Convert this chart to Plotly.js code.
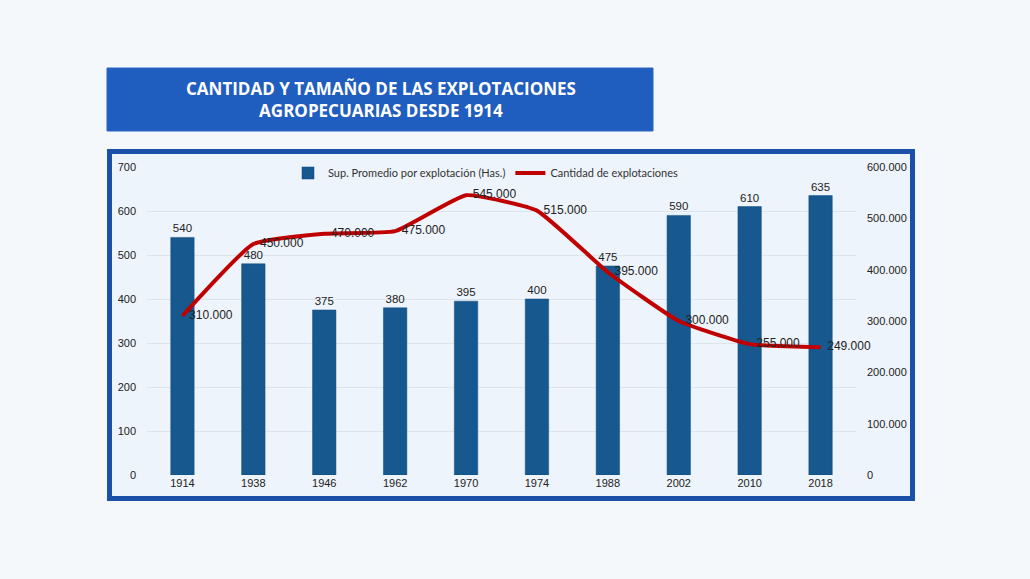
<!DOCTYPE html>
<html>
<head>
<meta charset="utf-8">
<script src="https://cdn.plot.ly/plotly-3.0.1.min.js"></script>
<style>
  html, body { margin: 0; padding: 0; background: #f5f8fb; }
  #graph { width: 1030px; height: 579px; }
</style>
</head>
<body>
<div id="graph"></div>
<script>
/* ----- Data ----- */
var years = ['1914', '1938', '1946', '1962', '1970', '1974', '1988', '2002', '2010', '2018'];
var supPromedio = [540, 480, 375, 380, 395, 400, 475, 590, 610, 635]; // hectares per farm
var cantidad = [310000, 450000, 470000, 475000, 545000, 515000, 395000, 300000, 255000, 249000];

/* ----- Plot area in pixels, used to place the frame and title box ----- */
var plotL = 147, plotR = 856, plotT = 167, plotB = 475;
function px(x) { return (x - plotL) / (plotR - plotL); }
function py(y) { return (plotB - y) / (plotB - plotT); }

var labelFont = {family: 'Liberation Sans, Arial, sans-serif', size: 11.5, color: '#222'};

var barTrace = {
    x: years,
    y: supPromedio,
    type: 'bar',
    name: 'Sup. Promedio por explotación (Has.)',
    marker: {color: '#17588f', line: {color: '#0f4a7c', width: 0.5}},
    text: supPromedio.map(String),
    textposition: 'outside',
    cliponaxis: false,
    textfont: labelFont,
    hoverinfo: 'none'
};

var lineTrace = {
    x: years,
    y: cantidad,
    yaxis: 'y2',
    type: 'scatter',
    mode: 'lines+text',
    name: 'Cantidad de explotaciones',
    line: {color: '#c00000', width: 4, shape: 'spline', smoothing: 0.4},
    texttemplate: '\u00a0\u00a0%{y:,d}',
    textposition: 'middle right',
    cliponaxis: false,
    textfont: {family: 'Liberation Sans, Arial, sans-serif', size: 12, color: '#222'},
    hoverinfo: 'none'
};

var layout = {
    width: 1030,
    height: 579,
    paper_bgcolor: '#f5f8fb',
    plot_bgcolor: 'rgba(0,0,0,0)',
    separators: ',.',
    margin: {l: plotL, r: 1030 - plotR, t: plotT, b: 579 - plotB, pad: 0},
    bargap: 0.67,
    showlegend: true,
    legend: {
        orientation: 'h',
        x: px(486),
        xanchor: 'center',
        y: py(173),
        yanchor: 'middle',
        bgcolor: 'rgba(0,0,0,0)',
        font: {family: 'Lato, sans-serif', size: 11, color: '#333'},
        itemwidth: 30,
        tracegroupgap: 0
    },
    xaxis: {
        type: 'category',
        showgrid: false,
        zeroline: false,
        showline: false,
        ticks: '',
        tickfont: {family: 'Liberation Sans, Arial, sans-serif', size: 11, color: '#222'}
    },
    yaxis: {
        range: [0, 700],
        dtick: 100,
        showgrid: true,
        gridcolor: '#dde4ec',
        gridwidth: 1,
        zeroline: false,
        showline: false,
        ticks: '',
        ticklabelstandoff: 10,
        tickfont: {family: 'Liberation Sans, Arial, sans-serif', size: 11, color: '#222'}
    },
    yaxis2: {
        overlaying: 'y',
        side: 'right',
        range: [0, 600000],
        dtick: 100000,
        tickformat: ',d',
        showgrid: false,
        zeroline: false,
        showline: false,
        ticks: '',
        ticklabelstandoff: 10,
        tickfont: {family: 'Liberation Sans, Arial, sans-serif', size: 11, color: '#222'}
    },
    shapes: [
        // title box
        {
            type: 'rect', xref: 'paper', yref: 'paper', layer: 'below',
            x0: px(107), x1: px(653), y0: py(131), y1: py(68),
            fillcolor: '#1f5dbe', line: {color: '#2a66c4', width: 1}
        },
        // chart frame
        {
            type: 'rect', xref: 'paper', yref: 'paper', layer: 'below',
            x0: px(109.5), x1: px(912.5), y0: py(498.5), y1: py(151.5),
            fillcolor: '#eef4fb', line: {color: '#1b50a8', width: 5}
        }
    ],
    annotations: [
        {
            xref: 'paper', yref: 'paper',
            x: px(381), y: py(99.5),
            xanchor: 'center', yanchor: 'middle',
            showarrow: false,
            align: 'center',
            text: '<b>CANTIDAD Y TAMAÑO DE LAS EXPLOTACIONES<br>AGROPECUARIAS DESDE 1914</b>',
            font: {family: 'Open Sans, sans-serif', size: 17, color: '#ffffff'}
        }
    ]
};

Plotly.newPlot('graph', [barTrace, lineTrace], layout, {staticPlot: true});
</script>
</body>
</html>
